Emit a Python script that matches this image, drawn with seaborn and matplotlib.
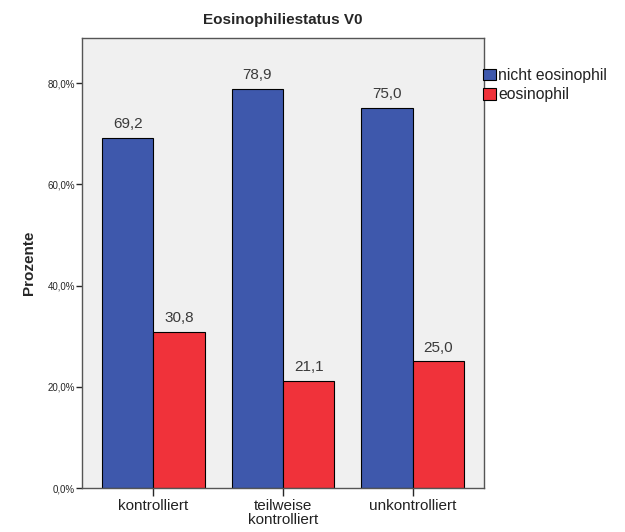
import matplotlib
matplotlib.use("Agg")
import matplotlib.pyplot as plt
import seaborn as sns
import pandas as pd
from matplotlib.patches import Patch

# Data
categories = ["kontrolliert", "teilweise\nkontrolliert", "unkontrolliert"]
nicht_eosinophil = [69.2, 78.9, 75.0]
eosinophil = [30.8, 21.1, 25.0]
series_names = ["nicht eosinophil", "eosinophil"]
y_ticks = [0, 20, 40, 60, 80]

colors = ["#3E58AC", "#F0323A"]

df = pd.DataFrame({
    "Kategorie": categories * 2,
    "Status": [series_names[0]] * 3 + [series_names[1]] * 3,
    "Prozent": nicht_eosinophil + eosinophil,
})

sns.set_style("white")
plt.rcParams['font.family'] = ['Liberation Sans', 'DejaVu Sans']

fig = plt.figure(figsize=(6.25, 5.32), dpi=100)
ax = fig.add_axes([0.1312, 0.0827, 0.6432, 0.8459])

sns.barplot(data=df, x="Kategorie", y="Prozent", hue="Status",
            palette=colors, width=0.79, edgecolor="black", linewidth=0.8,
            saturation=1, ax=ax, legend=False)

ax.set_facecolor("#F0F0F0")
ax.set_xlim(-0.55, 2.55)
ax.set_ylim(0, 88.9)

# value labels above bars
for container in ax.containers:
    labels = [f"{v:.1f}".replace(".", ",") for v in container.datavalues]
    ax.bar_label(container, labels=labels, padding=5, fontsize=11, color="#3A3A3A")

ax.set_yticks(y_ticks)
ax.set_yticklabels([f"{t:.1f}%".replace(".", ",") for t in y_ticks], fontsize=7)
ax.tick_params(axis="y", length=4, width=1, direction="out", left=True, pad=1)
ax.tick_params(axis="x", length=6, width=1, direction="out", bottom=True,
               labelsize=11, pad=2, labelcolor="#222222")
for lbl in ax.get_xticklabels():
    lbl.set_linespacing(0.95)

for side in ["top", "right", "left", "bottom"]:
    ax.spines[side].set_visible(True)
    ax.spines[side].set_color("#555555")
    ax.spines[side].set_linewidth(1)

ax.set_xlabel("")
ax.set_ylabel("Prozente", fontsize=11, fontweight="bold", labelpad=8)
ax.set_title("Eosinophiliestatus V0", fontsize=11, fontweight="bold", pad=10)

handles = [Patch(facecolor=c, edgecolor="black", linewidth=0.8) for c in colors]
leg = fig.legend(handles, series_names, loc="upper left", bbox_to_anchor=(0.773, 0.872),
                 frameon=False, fontsize=11.3, handlelength=0.85, handleheight=0.75,
                 handletextpad=0.1, borderaxespad=0, labelspacing=0.28, borderpad=0)
for t in leg.get_texts():
    t.set_color("#222222")

fig.savefig("out.png", dpi=100, facecolor="white")
